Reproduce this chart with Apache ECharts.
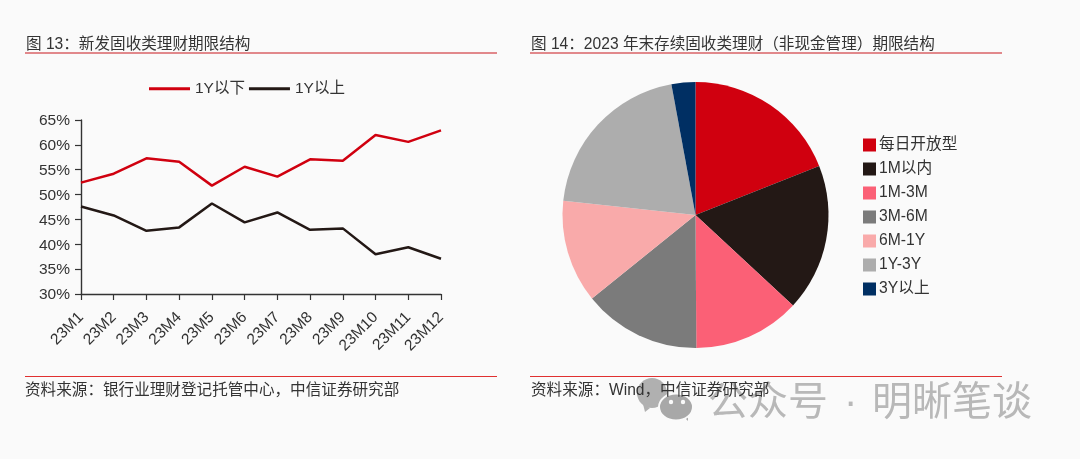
<!DOCTYPE html>
<html><head><meta charset="utf-8">
<style>html,body{margin:0;padding:0;background:#fafafa}#c{width:1080px;height:459px}</style>
<script src="https://cdn.jsdelivr.net/npm/echarts@6/dist/echarts.min.js"></script></head>
<body><div id="c"></div>
<script>
const months=['23M1','23M2','23M3','23M4','23M5','23M6','23M7','23M8','23M9','23M10','23M11','23M12'];
const below1Y=[52.4,54.2,57.3,56.6,51.8,55.6,53.6,57.1,56.8,62.0,60.6,62.9];
const above1Y=[47.6,45.8,42.7,43.4,48.2,44.4,46.4,42.9,43.2,38.0,39.4,37.1];
const terms=['每日开放型','1M以内','1M-3M','3M-6M','6M-1Y','1Y-3Y','3Y以上'];
const shares=[19.0,17.9,13.0,14.3,12.5,20.4,2.9];
const termColors=['#d0000f','#231815','#fb6076','#7b7b7b','#f9aaaa','#adadad','#002f63'];
const title1='图 13：新发固收类理财期限结构';
const title2='图 14：2023 年末存续固收类理财（非现金管理）期限结构';
const source1='资料来源：银行业理财登记托管中心，中信证券研究部';
const source2='资料来源：Wind，中信证券研究部';
const watermarkLeft='公众号';
const watermarkDot='·';
const watermarkRight='明晰笔谈';
const font='"Liberation Sans","Noto Sans CJK SC",sans-serif';
const chart=echarts.init(document.getElementById('c'),null,{renderer:'canvas'});
const txt=(x,y,t,size,fill,extra)=>({type:'text',x,y,silent:true,style:Object.assign({text:t,font:size+'px '+font,fill,textVerticalAlign:'middle'},extra||{})});
const rule=(x1,x2,y,color)=>({type:'line',silent:true,shape:{x1,y1:y,x2,y2:y},style:{stroke:color,lineWidth:1}});
chart.setOption({
  animation:false,backgroundColor:'#fafafa',
  textStyle:{fontFamily:font},
  legend:[{
    left:149,top:81,padding:0,itemWidth:41,itemHeight:3,itemGap:4,icon:'rect',
    data:['1Y以下','1Y以上'],
    textStyle:{fontSize:15.5,color:'#333'}
  },{
    left:863,top:136,padding:0,orient:'vertical',itemWidth:13,itemHeight:13,itemGap:6,icon:'rect',
    data:terms,
    textStyle:{fontSize:15.7,color:'#333',lineHeight:18,height:18,padding:[0,0,0,-2]}
  }],
  grid:{left:81,top:120,width:360,height:174,containLabel:false},
  xAxis:{type:'category',boundaryGap:false,data:months,
    axisLine:{lineStyle:{color:'#333',width:1.4}},
    axisTick:{show:true,inside:false,length:6,alignWithLabel:true,lineStyle:{color:'#333',width:1.2}},
    axisLabel:{rotate:45,fontSize:15.5,color:'#333',margin:21,interval:0}},
  yAxis:{type:'value',min:30,max:65,interval:5,
    axisLine:{show:true,lineStyle:{color:'#333',width:1.4}},
    axisTick:{show:true,length:6,lineStyle:{color:'#333',width:1.2}},
    splitLine:{show:false},
    axisLabel:{formatter:'{value}%',fontSize:15.5,color:'#333',margin:11,verticalAlign:'top',lineHeight:18,padding:[-8,0,0,0]}},
  series:[
    {name:'1Y以下',type:'line',data:below1Y,symbol:'none',lineStyle:{color:'#d0000f',width:2.5},itemStyle:{color:'#d0000f'}},
    {name:'1Y以上',type:'line',data:above1Y,symbol:'none',lineStyle:{color:'#231815',width:2.5},itemStyle:{color:'#231815'}},
    {type:'pie',center:[695.5,215],radius:[0,133],startAngle:90,clockwise:true,
     label:{show:false},labelLine:{show:false},
     data:terms.map((n,i)=>({name:n,value:shares[i],itemStyle:{color:termColors[i]}}))}
  ],
  graphic:[
    {type:'ellipse',silent:true,shape:{cx:652,cy:393,rx:15,ry:15},style:{fill:'#b0b0b0'}},
    {type:'polygon',silent:true,shape:{points:[[643,404],[650,408],[645,412]]},style:{fill:'#b0b0b0'}},
    {type:'polygon',silent:true,shape:{points:[[682,415],[688,416],[688,421]]},style:{fill:'#a8a8a8'}},
    {type:'ellipse',silent:true,shape:{cx:676,cy:407,rx:17,ry:13.5},style:{fill:'#a8a8a8',stroke:'#fafafa',lineWidth:2}},
    {type:'circle',silent:true,shape:{cx:671,cy:402,r:2.2},style:{fill:'#fafafa'}},
    {type:'circle',silent:true,shape:{cx:683,cy:402,r:2.2},style:{fill:'#fafafa'}},
    txt(708,404,watermarkLeft,40,'#b8b8b8'),
    txt(844,404,watermarkDot,40,'#b8b8b8'),
    txt(872,404,watermarkRight,40,'#b8b8b8'),
    txt(26,45,title1,15.6,'#333'),
    txt(531,45,title2,15.6,'#333'),
    rule(25,497,53,'#c8161d'),rule(530,1002,53,'#c8161d'),
    rule(25,497,376.5,'#e03030'),rule(530,1002,376.5,'#e03030'),
    txt(25,391,source1,15.6,'#333'),
    txt(531,391,source2,15.6,'#333')
  ]
});
</script></body></html>
